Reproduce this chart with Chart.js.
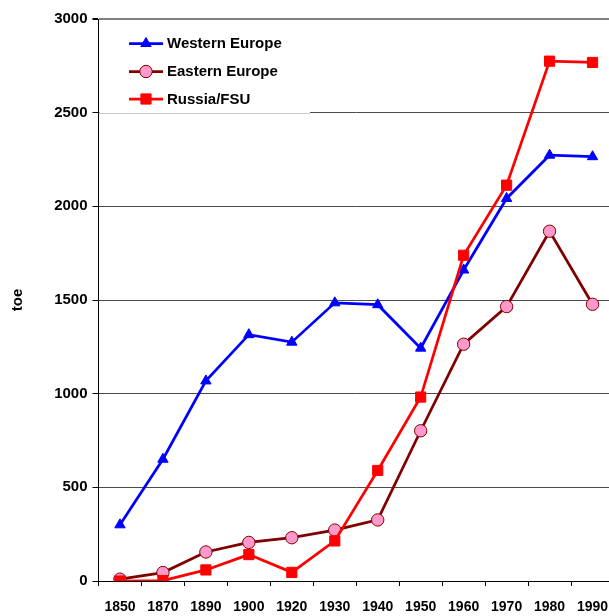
<!DOCTYPE html>
<html>
<head>
<meta charset="utf-8">
<script src="https://cdn.jsdelivr.net/npm/chart.js@4/dist/chart.umd.min.js"></script>
<style>
html,body{margin:0;padding:0;background:#fff;overflow:hidden;}
#wrap{position:absolute;left:0;top:0;width:614px;height:616px;}
</style>
</head>
<body>
<div id="wrap"><canvas id="c" width="614" height="616"></canvas></div>
<script>
const categories = ['1850','1870','1890','1900','1920','1930','1940','1950','1960','1970','1980','1990'];
const westernEurope = [300, 650, 1068, 1315, 1275, 1485, 1475, 1243, 1660, 2042, 2273, 2265];
const easternEurope = [10, 45, 155, 206, 231, 272, 326, 802, 1264, 1465, 1867, 1477];
const russiaFSU = [0, 2, 59, 141, 46, 214, 590, 982, 1739, 2113, 2775, 2768];
const seriesNames = ['Western Europe', 'Eastern Europe', 'Russia/FSU'];
const yTitle = 'toe';
const yMin = 0, yMax = 3000, yStep = 500;

const FONT = "'Liberation Sans', Arial, sans-serif";

function drawMarker(ctx, style, x, y, r, fill, stroke, bw) {
  ctx.save();
  ctx.fillStyle = fill; ctx.strokeStyle = stroke; ctx.lineWidth = bw;
  ctx.beginPath();
  if (style === 'triangle') {
    ctx.moveTo(x, y - r);
    ctx.lineTo(x + r * Math.sin(Math.PI * 2 / 3), y - r * Math.cos(Math.PI * 2 / 3));
    ctx.lineTo(x - r * Math.sin(Math.PI * 2 / 3), y - r * Math.cos(Math.PI * 2 / 3));
    ctx.closePath();
  } else if (style === 'rect') {
    const s = Math.SQRT1_2 * r;
    ctx.rect(x - s, y - s, 2 * s, 2 * s);
  } else {
    ctx.arc(x, y, r, 0, Math.PI * 2);
  }
  ctx.fill();
  if (bw > 0) ctx.stroke();
  ctx.restore();
}

const legendPlugin = {
  id: 'insideLegend',
  beforeDatasetsDraw(chart) {
    const ctx = chart.ctx;
    const ca = chart.chartArea;
    const y2500 = chart.scales.y.getPixelForValue(2500);
    ctx.save();
    ctx.fillStyle = '#ffffff';
    ctx.fillRect(ca.left + 1, 24, 310 - ca.left - 1, y2500 - 24 + 1.5);
    ctx.strokeStyle = '#c8c8c8';
    ctx.lineWidth = 1;
    ctx.beginPath();
    ctx.moveTo(ca.left + 1, Math.round(y2500) + 0.5);
    ctx.lineTo(310, Math.round(y2500) + 0.5);
    ctx.stroke();
    ctx.restore();
  },
  afterDraw(chart) {
    const ctx = chart.ctx;
    const rows = [43.5, 71.5, 99];
    chart.data.datasets.forEach((ds, i) => {
      const y = rows[i];
      ctx.save();
      ctx.strokeStyle = ds.borderColor;
      ctx.lineWidth = ds.borderWidth;
      ctx.beginPath();
      ctx.moveTo(129, y);
      ctx.lineTo(163, y);
      ctx.stroke();
      ctx.restore();
      drawMarker(ctx, ds.pointStyle, 146, y, ds.pointRadius, ds.pointBackgroundColor, ds.pointBorderColor, ds.pointBorderWidth);
      ctx.save();
      ctx.fillStyle = '#000';
      ctx.font = 'bold 15px ' + FONT;
      ctx.textBaseline = 'middle';
      ctx.textAlign = 'left';
      ctx.fillText(ds.label, 167, y + 0.5);
      ctx.restore();
    });
  }
};

new Chart(document.getElementById('c'), {
  type: 'line',
  data: {
    labels: categories,
    datasets: [
      {
        label: seriesNames[0], data: westernEurope,
        borderColor: '#0000FF', backgroundColor: '#0000FF',
        pointBackgroundColor: '#0000FF', pointBorderColor: '#0000FF', pointBorderWidth: 1,
        pointStyle: 'triangle', pointRadius: 6, borderWidth: 2.75, order: 3
      },
      {
        label: seriesNames[1], data: easternEurope,
        borderColor: '#800000', backgroundColor: '#FF99CC',
        pointBackgroundColor: '#FF99CC', pointBorderColor: '#800000', pointBorderWidth: 1,
        pointStyle: 'circle', pointRadius: 6.2, borderWidth: 2.75, order: 2
      },
      {
        label: seriesNames[2], data: russiaFSU,
        borderColor: '#FF0000', backgroundColor: '#FF0000',
        pointBackgroundColor: '#FF0000', pointBorderColor: '#FF0000', pointBorderWidth: 1,
        pointStyle: 'rect', pointRadius: 7.2, borderWidth: 2.75, order: 1
      }
    ]
  },
  options: {
    responsive: false,
    devicePixelRatio: 1,
    animation: false,
    layout: { autoPadding: false, padding: { top: 19, right: 0, bottom: 0, left: 0 } },
    plugins: { legend: { display: false }, tooltip: { enabled: false } },
    elements: { line: { tension: 0 } },
    scales: {
      x: {
        type: 'category',
        offset: true,
        grid: { display: true, offset: true, drawOnChartArea: false, drawTicks: true, tickLength: 5, tickColor: '#000', color: '#000' },
        border: { display: true, color: '#000', width: 1 },
        ticks: { color: '#000', font: { family: FONT, size: 14, weight: 'bold' }, padding: 13, maxRotation: 0, autoSkip: false },
        afterFit(scale) { scale.height = 35; scale.paddingLeft = 0; scale.paddingRight = 0; }
      },
      y: {
        min: yMin, max: yMax,
        ticks: { stepSize: yStep, color: '#000', font: { family: FONT, size: 15, weight: 'bold' }, padding: 5,
                 callback: (v) => String(v) },
        grid: {
          color: (c) => (c.tick && c.tick.value === yMax) ? '#808080' : '#4a4a4a',
          lineWidth: (c) => (c.tick && c.tick.value === yMax) ? 2 : 1,
          drawTicks: true, tickLength: 6, tickColor: '#000'
        },
        border: { display: true, color: '#000', width: 1 },
        title: { display: true, text: yTitle, color: '#000', font: { family: FONT, size: 15, weight: 'bold' }, padding: { top: 9, bottom: 0 } },
        afterFit(scale) { scale.width = 98.5; }
      }
    }
  },
  plugins: [legendPlugin]
});
</script>
</body>
</html>
